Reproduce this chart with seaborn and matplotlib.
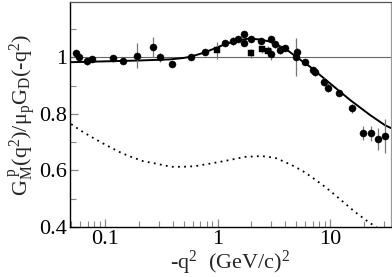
import numpy as np
import pandas as pd
import matplotlib
matplotlib.use("Agg")
import matplotlib.pyplot as plt
import seaborn as sns
from matplotlib.ticker import FixedLocator, FixedFormatter, LogLocator, NullFormatter

# ---- data ----
circ_q2 = [0.055, 0.059, 0.069, 0.077, 0.119, 0.144, 0.194, 0.269, 0.308, 0.392,
           0.578, 0.774, 1.17, 1.36, 1.53, 1.73, 1.73, 1.99, 2.41, 2.97, 2.97,
           3.24, 3.59, 3.98, 4.99, 5.1, 6.0, 7.11, 7.36, 8.85, 9.5, 11.9, 15.6,
           19.5, 23.0, 26.7, 31.0]
circ_val = [1.014, 1.000, 0.988, 0.993, 0.997, 0.988, 1.006, 1.038, 1.000, 0.976,
            1.002, 1.019, 1.050, 1.058, 1.065, 1.082, 1.050, 1.065, 1.058, 1.065, 1.012,
            1.046, 1.026, 1.032, 1.002, 1.020, 0.984, 0.955, 0.947, 0.914, 0.893, 0.874, 0.820,
            0.733, 0.731, 0.711, 0.721]
circ_err = [0.008, 0.006, 0.014, 0.008, 0.006, 0.008, 0.044, 0.035, 0.015, 0.008,
            0.006, 0.008, 0.010, 0.015, 0.010, 0.008, 0.008, 0.010, 0.012, 0.012, 0.020,
            0.012, 0.015, 0.010, 0.068, 0.012, 0.008, 0.012, 0.012, 0.015, 0.015, 0.012, 0.015,
            0.026, 0.026, 0.038, 0.060]

sq_q2 = [0.98, 1.99, 2.47, 2.83]
sq_val = [1.026, 1.014, 1.028, 1.022]
sq_err = [0.030, 0.015, 0.012, 0.018]

fit_q2 = [0.0489, 0.1, 0.2, 0.378, 0.5, 0.57, 0.75, 0.95, 1.17, 1.53, 1.94, 2.39,
          2.93, 3.24, 3.98, 4.89, 6.64, 10.0, 15.1, 22.7, 30.8, 34.8]
fit_val = [0.983, 0.986, 0.989, 0.993, 0.998, 1.002, 1.016, 1.032, 1.047, 1.061, 1.067, 1.063,
           1.056, 1.047, 1.032, 1.005, 0.967, 0.908, 0.849, 0.796, 0.760, 0.750]

dot_q2 = [0.0501, 0.0615, 0.0755, 0.0927, 0.114, 0.140, 0.171, 0.218, 0.277, 0.388,
          0.493, 0.627, 0.881, 1.25, 1.75, 2.47, 3.24, 3.98, 4.89, 6.0, 7.36, 9.03,
          11.1, 13.6, 16.7, 21.9, 24.3, 26.0]
dot_val = [0.764, 0.740, 0.719, 0.699, 0.680, 0.662, 0.648, 0.633, 0.625, 0.613,
           0.613, 0.615, 0.625, 0.636, 0.648, 0.651, 0.645, 0.630, 0.613, 0.593, 0.568, 0.542,
           0.513, 0.483, 0.453, 0.418, 0.406, 0.398]

x_ticks = [0.1, 1, 10]
x_tick_labels = ["0.1", "1", "10"]
y_ticks = [0.4, 0.6, 0.8, 1.0]
y_tick_labels = ["0.4", "0.6", "0.8", "1"]
y_minor = [0.5, 0.7, 0.9, 1.1]

circ = pd.DataFrame({"q2": circ_q2, "val": circ_val, "err": circ_err})
sq = pd.DataFrame({"q2": sq_q2, "val": sq_val, "err": sq_err})
fit = pd.DataFrame({"q2": fit_q2, "val": fit_val})
dot = pd.DataFrame({"q2": dot_q2, "val": dot_val})

sns.set_style("ticks")
plt.rcParams["font.family"] = ["Liberation Serif", "DejaVu Serif"]
plt.rcParams["mathtext.fontset"] = "custom"
plt.rcParams["mathtext.rm"] = "Liberation Serif"
plt.rcParams["mathtext.it"] = "Liberation Serif:italic"
plt.rcParams["mathtext.bf"] = "Liberation Serif:bold"
plt.rcParams["mathtext.default"] = "rm"

fig = plt.figure(figsize=(3.92, 2.77), dpi=100)
ax = fig.add_axes([70/392, 1-227/277, (391-70)/392, (227-2)/277])
ax.set_xscale("log")

ax.axhline(1.0, color="#666666", lw=0.8, zorder=1)

sns.lineplot(data=fit, x="q2", y="val", ax=ax, color="black", lw=1.4,
             sort=False, estimator=None, zorder=3)
sns.lineplot(data=dot, x="q2", y="val", ax=ax, color="black", lw=1.3,
             sort=False, estimator=None, linestyle=(0, (1, 2.4)), zorder=3)

ax.errorbar(circ["q2"], circ["val"], yerr=circ["err"], fmt="none",
            ecolor="#777777", elinewidth=0.9, capsize=0, zorder=4)
ax.errorbar(sq["q2"], sq["val"], yerr=sq["err"], fmt="none",
            ecolor="#777777", elinewidth=0.9, capsize=0, zorder=4)
sns.scatterplot(data=circ, x="q2", y="val", ax=ax, marker="o", s=26,
                color="black", edgecolor="black", linewidth=0.3, zorder=5)
sns.scatterplot(data=sq, x="q2", y="val", ax=ax, marker="s", s=22,
                color="black", edgecolor="black", linewidth=0.3, zorder=5)

ax.set_xlim(0.0489, 34.8)
ax.set_ylim(0.4, 1.196)

ax.xaxis.set_major_locator(FixedLocator(x_ticks))
ax.xaxis.set_major_formatter(FixedFormatter(x_tick_labels))
ax.xaxis.set_minor_locator(LogLocator(base=10, subs=np.arange(2, 10)))
ax.xaxis.set_minor_formatter(NullFormatter())
ax.yaxis.set_major_locator(FixedLocator(y_ticks))
ax.yaxis.set_major_formatter(FixedFormatter(y_tick_labels))
ax.yaxis.set_minor_locator(FixedLocator(y_minor))

ax.tick_params(which="both", direction="in", colors="#888888", labelcolor="black",
               labelsize=16, top=False, right=False)
ax.tick_params(which="major", length=6, width=0.9, pad=2)
ax.tick_params(which="minor", length=4, width=0.8)

for side in ["left", "bottom"]:
    ax.spines[side].set_color("black")
    ax.spines[side].set_linewidth(1.0)
ax.spines["top"].set_color("#555555")
ax.spines["top"].set_linewidth(0.9)
ax.spines["right"].set_color("#999999")
ax.spines["right"].set_linewidth(0.9)
ax.spines["top"].set_visible(True)
ax.spines["right"].set_visible(True)

ax.set_xlabel("-q$^{2}$  (GeV/c)$^{2}$", fontsize=16, labelpad=0)
ax.set_ylabel("G$_{M}^{\\ p}$(q$^{2}$)/$\\mu_{p}$G$_{D}$(-q$^{2}$)", fontsize=16, labelpad=1)

fig.savefig("out.png", dpi=100)
